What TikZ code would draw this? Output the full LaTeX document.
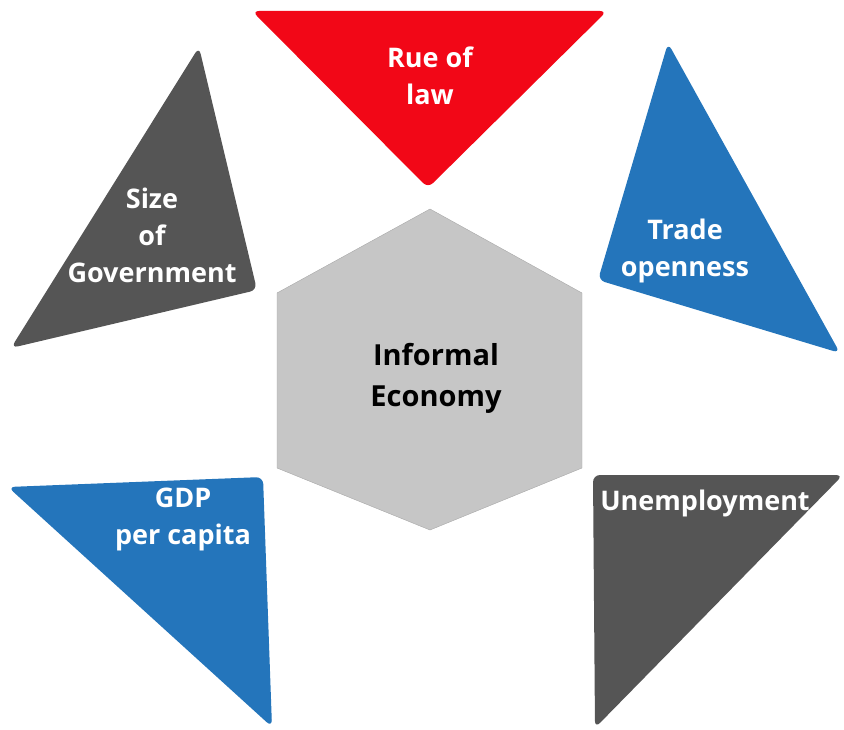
\documentclass[tikz,border=0pt]{standalone}
\usepackage{fontspec}
\setmainfont{Open Sans}
\definecolor{lawred}{HTML}{F20717}
\definecolor{tradeblue}{HTML}{2475BB}
\definecolor{darkgrey}{HTML}{555555}
\definecolor{hexgrey}{HTML}{C6C6C6}
\begin{document}
\begin{tikzpicture}[x=1pt,y=-1pt,
    lbl/.style={font=\bfseries\fontsize{27}{37}\selectfont,align=center,text=white},
    wedge/.style={rounded corners=7pt}]
                \useasboundingbox (0,0) rectangle (844,730);
                %% centre
                \draw[hexgrey!85!black,fill=hexgrey] (430,209) -- (582,293) -- (582,468) -- (430,530) -- (277,468) -- (277,293) -- cycle;
                \node[lbl,text=black,font=\bfseries\fontsize{29}{41}\selectfont] (core) at (436,378) {Informal\\Economy};
                %% wedges
                \fill[wedge,lawred] (252,11) -- (607,11) -- (428,188) -- cycle;
                \fill[wedge,darkgrey] (199,47) -- (257,290) -- (11,348) -- cycle;
                \fill[wedge,tradeblue] (668,43) -- (840,353) -- (598,280) -- cycle;
                \fill[wedge,tradeblue] (8,487) -- (263,477) -- (272,727) -- cycle;
                \fill[wedge,darkgrey] (593,475) -- (843,475) -- (595,728) -- cycle;
                %% labels
                \node[lbl] (law) at (430,76) {Rue of\\law};
                \node[lbl] (size) at (152,235) {Size\\of\\Government};
                \node[lbl] (trade) at (685,251) {Trade\\openness};
                \node[lbl] (gdp) at (183,519) {GDP\\per capita};
                \node[lbl] (unemp) at (705,503) {Unemployment};
            \end{tikzpicture}
\end{document}
